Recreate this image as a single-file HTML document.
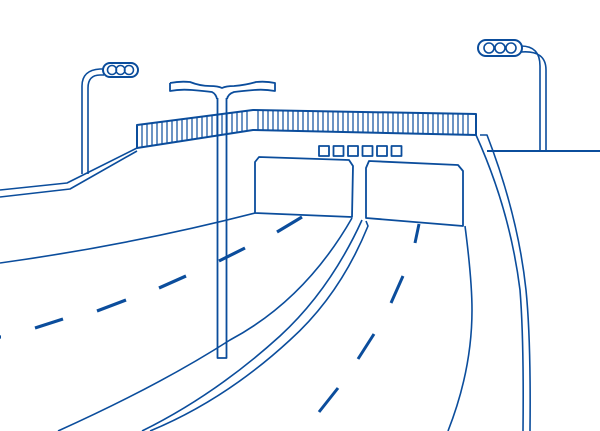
<!DOCTYPE html>
<html><head><style>html,body{margin:0;padding:0;background:#fff}svg{display:block}</style></head><body>
<svg width="600" height="431" viewBox="0 0 600 431" xmlns="http://www.w3.org/2000/svg" fill="none" stroke="#0b4d9c" stroke-width="1.6" stroke-linejoin="round">
<path d="M82,174 V86 Q82,70 100,69 H104 M88,174 V88 Q88,75 100,75 H104"/>
<rect x="103" y="63" width="35" height="14" rx="7" stroke-width="2"/>
<circle cx="112" cy="70" r="4.5"/><circle cx="120.5" cy="70" r="4.5"/><circle cx="129" cy="70" r="4.5"/>
<path d="M521,46 Q540,46 540,66 V151 M521,52 Q546,50 546,70 V151"/>
<rect x="478" y="40" width="44" height="16" rx="8" stroke-width="2"/>
<circle cx="489" cy="48" r="5"/><circle cx="500" cy="48" r="5"/><circle cx="511" cy="48" r="5"/>
<path d="M487,151 H600" stroke-width="2"/>
<path d="M0,190 L67,183 L137,148 M0,197 L70,189 L137,151"/>
<path d="M137,125 L253,110 L476,114 L476,135 L253,130 L137,148 Z" stroke-width="2"/>
<g stroke-width="1.2">
<path d="M142,124.5V147.5M147,124V146.5M152,123V146M157,122.5V145M162,122V144M167,121V143.5M172,120.5V142.5M177,120V142M182,119V141M187,118.5V140.5M192,118V139.5M197,117V139M202,116.5V138M207,116V137M212,115V136.5M217,114.5V135.5M222,114V135M227,113V134M232,112.5V133.5M237,112V132.5M242,111V132M247,110.5V131"/>
<path d="M258,110V130M263,110V130.5M268,110V130.5M273,110.5V130.5M278,110.5V131M283,110.5V131M288,110.5V131M293,110.5V131M298,111V131.5M303,111V131.5M308,111V131.5M313,111V131.5M318,111V132M323,111V132M328,111.5V132M333,111.5V132M338,111.5V132M343,111.5V132.5M348,111.5V132.5M353,111.5V132.5M358,112V132.5M363,112V133M368,112V133M373,112V133M378,112V133M383,112V133M388,112.5V133.5M393,112.5V133.5M398,112.5V133.5M403,112.5V133.5M408,113V134M413,113V134M418,113V134M423,113V134M428,113V134M433,113V134.5M438,113V134.5M443,113.5V134.5M448,113.5V134.5M453,113.5V134.5M458,113.5V135M463,113.5V135M468,113.5V135"/>
</g>
<path d="M476,135 Q510,210 520,290 Q524,340 523,431 M480,135 L487,135 Q518,215 526,290 Q531,340 530,431"/>
<g stroke-width="1.8">
<rect x="319" y="146" width="10" height="10"/><rect x="333.5" y="146" width="10" height="10"/><rect x="348" y="146" width="10" height="10"/><rect x="362.5" y="146" width="10" height="10"/><rect x="377" y="146" width="10" height="10"/><rect x="391.5" y="146" width="10" height="10"/>
<path d="M255,213 V162 L259,157 L349,160 L353,166 L352,217 Z"/>
<path d="M366,218 V168 L369,161 L458,165 L463,171 V226 Z"/>
</g>
<path d="M0,263 Q130,245 255,213"/>
<path d="M170,83 Q180,81 190,82 Q200,86 210,86 Q218,86 222,88 Q226,86 234,86 Q246,85 256,82 Q266,81 275,83 V91 Q264,89 254,90 Q242,91 234,92 Q228,94 227,99 M170,83 V91 Q180,89 192,90 Q204,91 212,92 Q216,94 217,99" stroke-width="1.8"/>
<path d="M217.5,98 V358 H226.5 V98" stroke-width="1.8"/>
<g stroke-width="3.2">
<path d="M302,217 L277,232 M245,248 L219,261 M186,276 L159,288 M126,300 L97,311 M63,319 L35,328 M0,337 L1,337"/>
</g>
<path d="M352,218 Q305,300 230,340 Q160,385 58,431"/>
<path d="M362,220 Q330,290 280,336 Q215,395 142,431"/>
<path d="M366,221 L368,226 Q340,295 290,340 Q225,400 150,431"/>
<g stroke-width="3">
<path d="M419,224 L415,243 M403,276 L391,303 M374,334 L358,359 M338,388 L319,412"/>
</g>
<path d="M465,226 Q472,280 472,310 Q472,370 448,431"/>
</svg>
</body></html>
